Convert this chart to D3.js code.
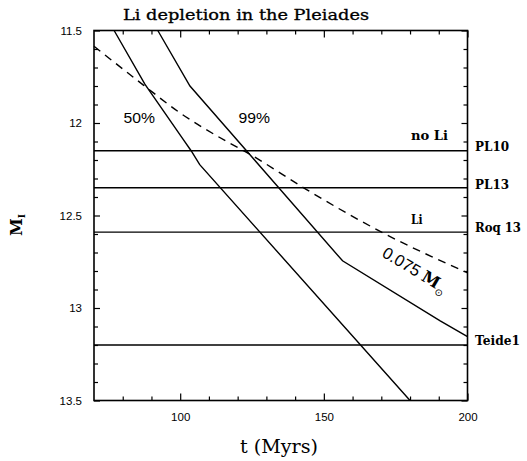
<!DOCTYPE html>
<html>
<head>
<meta charset="utf-8">
<script src="https://cdn.jsdelivr.net/npm/d3@7"></script>
<style>
  html, body { margin: 0; padding: 0; background: #fff; }
  svg { display: block; }
</style>
</head>
<body>
<svg id="chart" width="527" height="461"></svg>
<script>
// ---------- data ----------
const tDomain = [70, 200];
const mDomain = [11.5, 13.5];
const xMajorTicks = [100, 150, 200];
const xMinorTicks = [80, 90, 110, 120, 130, 140, 160, 170, 180, 190];
const yMajorTicks = [11.5, 12, 12.5, 13, 13.5];
const yMinorTicks = [11.6, 11.7, 11.8, 11.9, 12.1, 12.2, 12.3, 12.4, 12.6, 12.7, 12.8, 12.9, 13.1, 13.2, 13.3, 13.4];

// 50% depletion boundary
const curve50T = [77, 87.7, 101.1, 103.8, 106.8, 180];
const curve50M = [11.5, 11.79, 12.09, 12.15, 12.225, 13.5];
// 99% depletion boundary
const curve99T = [92.2, 103.4, 156.5, 190.5, 200];
const curve99M = [11.5, 11.8, 12.745, 13.07, 13.155];
// 0.075 Msun track (dashed)
const massT = [70, 87.2, 99.9, 116.2, 123.7, 144, 159.1, 170.1, 200];
const massM = [11.585, 11.795, 11.945, 12.10, 12.164, 12.36, 12.497, 12.59, 12.81];

// observed objects (horizontal lines)
const starNames = ["PL10", "PL13", "Roq 13", "Teide1"];
const starM = [12.15, 12.35, 12.59, 13.2];

// ---------- layout ----------
const svg = d3.select("#chart");
const L = 94, R = 467.5, T = 30.5, B = 400.5;
const x = d3.scaleLinear().domain(tDomain).range([L, R]);
const y = d3.scaleLinear().domain(mDomain).range([T, B]);

const serif = "'DejaVu Serif', 'Liberation Serif', serif";
const sans = "'Liberation Sans', Arial, sans-serif";

// ---------- axes (inward ticks) ----------
function styleAxis(g) {
  g.select(".domain").remove();
  g.selectAll(".tick line").attr("stroke", "#000").attr("stroke-width", 1.2);
  g.selectAll("text").attr("fill", "#000").attr("font-family", sans).attr("font-size", 11.5);
}
svg.append("g").attr("transform", `translate(0,${B})`)
  .call(d3.axisBottom(x).tickValues(xMajorTicks).tickSizeInner(-7).tickSizeOuter(0).tickPadding(12).tickFormat(d3.format("d")))
  .call(styleAxis);
svg.append("g").attr("transform", `translate(0,${B})`)
  .call(d3.axisBottom(x).tickValues(xMinorTicks).tickSizeInner(-4).tickSizeOuter(0).tickFormat(""))
  .call(styleAxis);
svg.append("g").attr("transform", `translate(0,${T})`)
  .call(d3.axisTop(x).tickValues(xMajorTicks).tickSizeInner(-7).tickSizeOuter(0).tickFormat(""))
  .call(styleAxis);
svg.append("g").attr("transform", `translate(0,${T})`)
  .call(d3.axisTop(x).tickValues(xMinorTicks).tickSizeInner(-4).tickSizeOuter(0).tickFormat(""))
  .call(styleAxis);
svg.append("g").attr("transform", `translate(${L},0)`)
  .call(d3.axisLeft(y).tickValues(yMajorTicks).tickSizeInner(-6).tickSizeOuter(0).tickPadding(12).tickFormat(d => d3.format("~g")(d)))
  .call(styleAxis);
svg.append("g").attr("transform", `translate(${L},0)`)
  .call(d3.axisLeft(y).tickValues(yMinorTicks).tickSizeInner(-4).tickSizeOuter(0).tickFormat(""))
  .call(styleAxis);
svg.append("g").attr("transform", `translate(${R},0)`)
  .call(d3.axisRight(y).tickValues(yMajorTicks).tickSizeInner(-6).tickSizeOuter(0).tickFormat(""))
  .call(styleAxis);
svg.append("g").attr("transform", `translate(${R},0)`)
  .call(d3.axisRight(y).tickValues(yMinorTicks).tickSizeInner(-4).tickSizeOuter(0).tickFormat(""))
  .call(styleAxis);

// frame
svg.append("rect").attr("x", L).attr("y", T).attr("width", R - L).attr("height", B - T)
  .attr("fill", "none").attr("stroke", "#000").attr("stroke-width", 1.6);

// ---------- horizontal lines ----------
svg.append("g").selectAll("line").data(starM).join("line")
  .attr("x1", x(tDomain[0])).attr("x2", x(tDomain[1]))
  .attr("y1", d => y(d)).attr("y2", d => y(d))
  .attr("stroke", "#000").attr("stroke-width", 1.4);

// ---------- curves ----------
const line = d3.line().x(d => x(d[0])).y(d => y(d[1]));
const zip = (a, b) => a.map((v, i) => [v, b[i]]);
svg.append("path").datum(zip(curve50T, curve50M)).attr("d", line)
  .attr("fill", "none").attr("stroke", "#000").attr("stroke-width", 1.4);
svg.append("path").datum(zip(curve99T, curve99M)).attr("d", line)
  .attr("fill", "none").attr("stroke", "#000").attr("stroke-width", 1.4);
svg.append("path").datum(zip(massT, massM)).attr("d", line.curve(d3.curveMonotoneX))
  .attr("fill", "none").attr("stroke", "#000").attr("stroke-width", 1.4)
  .attr("stroke-dasharray", "8,6");

// ---------- star labels ----------
const labelY = [151, 189, 232, 345];
const labelW = [34, 34, 46, 45];
svg.append("g").selectAll("text").data(starNames).join("text")
  .attr("x", 475).attr("y", (d, i) => labelY[i])
  .attr("textLength", (d, i) => labelW[i]).attr("lengthAdjust", "spacingAndGlyphs")
  .attr("font-family", serif).attr("font-size", 13.5).attr("font-weight", "bold")
  .text(d => d);

// region annotations
svg.append("text").attr("x", 411).attr("y", 140).attr("textLength", 37).attr("lengthAdjust", "spacingAndGlyphs")
  .attr("font-family", serif).attr("font-size", 13).attr("font-weight", "bold").text("no Li");
svg.append("text").attr("x", 411).attr("y", 224).attr("textLength", 11.5).attr("lengthAdjust", "spacingAndGlyphs")
  .attr("font-family", serif).attr("font-size", 13).attr("font-weight", "bold").text("Li");

svg.append("text").attr("x", 123.5).attr("y", 122.7).attr("textLength", 31.5).attr("lengthAdjust", "spacingAndGlyphs")
  .attr("font-family", sans).attr("font-size", 15.5).text("50%");
svg.append("text").attr("x", 238.5).attr("y", 122.7).attr("textLength", 31.5).attr("lengthAdjust", "spacingAndGlyphs")
  .attr("font-family", sans).attr("font-size", 15.5).text("99%");

// mass label along dashed line
const mLab = svg.append("text").attr("transform", "translate(381,256) rotate(31)")
  .attr("font-family", sans).attr("font-size", 16.5);
mLab.append("tspan").text("0.075 ");
mLab.append("tspan").attr("font-family", serif).attr("font-weight", "bold").text("M");
mLab.append("tspan").attr("font-size", 10).attr("dy", 5).attr("font-family", "'DejaVu Sans', sans-serif").text("\u2299");

// title
svg.append("text").attr("x", 123).attr("y", 20).attr("textLength", 246).attr("lengthAdjust", "spacingAndGlyphs")
  .attr("font-family", serif).attr("font-size", 15).attr("stroke", "#000").attr("stroke-width", 0.3)
  .text("Li depletion in the Pleiades");

// x axis label
svg.append("text").attr("x", 240).attr("y", 453).attr("textLength", 78).attr("lengthAdjust", "spacingAndGlyphs")
  .attr("font-family", serif).attr("font-size", 18).text("t (Myrs)");

// y axis label
const yLab = svg.append("text").attr("transform", "translate(21.5,236) rotate(-90)")
  .attr("font-family", serif).attr("font-size", 16).attr("font-weight", "bold");
yLab.append("tspan").text("M");
yLab.append("tspan").attr("font-size", 9).attr("dy", 3).text("I");
</script>
</body>
</html>
